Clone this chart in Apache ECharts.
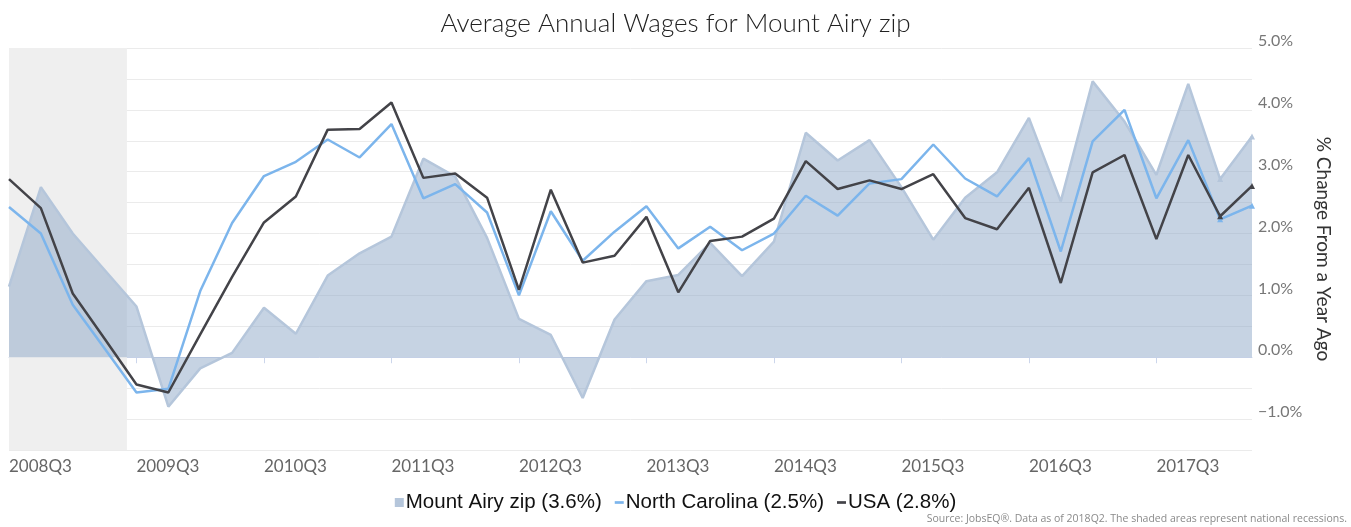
<!DOCTYPE html>
<html>
<head>
<meta charset="utf-8">
<title>Average Annual Wages for Mount Airy zip</title>
<script src="https://cdn.jsdelivr.net/npm/echarts@6/dist/echarts.min.js"></script>
<style>
  html, body { margin: 0; padding: 0; background: #fff; }
  #chart { width: 1351px; height: 527px; }
</style>
</head>
<body>
<div id="chart"></div>
<script>
// quarters 2008Q3 .. 2018Q2
const quarters = []
for (let y = 2008; y <= 2018; y++) {
  for (let q = 1; q <= 4; q++) {
    if ((y === 2008 && q < 3) || (y === 2018 && q > 2)) continue
    quarters.push(y + 'Q' + q)
  }
}

const mountAiry = [
  1.14, 2.75, 2.0, 1.41, 0.82, -0.80, -0.18, 0.07, 0.80, 0.38,
  1.32, 1.68, 1.95, 3.21, 2.92, 1.93, 0.62, 0.36, -0.66, 0.61,
  1.23, 1.33, 1.85, 1.31, 1.87, 3.63, 3.18, 3.51, 2.75, 1.90,
  2.58, 2.99, 3.87, 2.52, 4.46, 3.81, 2.95, 4.42, 2.88, 3.57
]
const northCarolina = [
  2.43, 2.0, 0.85, 0.14, -0.57, -0.51, 1.07, 2.17, 2.93, 3.16,
  3.52, 3.23, 3.77, 2.57, 2.80, 2.34, 1.00, 2.36, 1.56, 2.03,
  2.44, 1.76, 2.11, 1.73, 2.00, 2.61, 2.29, 2.81, 2.88, 3.44,
  2.89, 2.60, 3.22, 1.71, 3.49, 4.00, 2.57, 3.51, 2.23, 2.45
]
const usa = [
  2.88, 2.41, 1.03, 0.30, -0.44, -0.57, 0.37, 1.30, 2.18, 2.60,
  3.68, 3.69, 4.12, 2.90, 2.97, 2.58, 1.09, 2.71, 1.53, 1.64,
  2.27, 1.05, 1.88, 1.95, 2.24, 3.17, 2.72, 2.86, 2.72, 2.96,
  2.25, 2.07, 2.74, 1.20, 2.99, 3.27, 1.91, 3.27, 2.28, 2.77
]

const yTicks = [-1, 0, 1, 2, 3, 4, 5]
const xTickIdx = [0, 4, 8, 12, 16, 20, 24, 28, 32, 36]
const recession = [0, 3.7]

const toPairs = (arr) => arr.map((v, i) => [i, v])
const lastMarks = (v, params) => (params.dataIndex >= quarters.length - 2 ? 'triangle' : 'none')

const chart = echarts.init(document.getElementById('chart'))

chart.setOption({
  animation: false,
  title: {
    text: 'Average Annual Wages for Mount Airy zip',
    left: 'center',
    top: 6,
    textStyle: { fontFamily: 'Lato', fontWeight: 300, fontSize: 26, color: '#222' },
  },
  grid: { left: 9, right: 99, top: 48, bottom: 77 },
  legend: {
    bottom: 9,
    left: 'center',
    itemWidth: 9,
    itemHeight: 9,
    itemGap: 13,
    textStyle: { fontFamily: 'Liberation Sans', fontSize: 20.5, color: '#111', padding: [0, 0, 0, -3] },
    data: [
      { name: 'Mount Airy zip (3.6%)', icon: 'rect' },
      { name: 'North Carolina (2.5%)', icon: 'path://M0,0h10v3h-10z' },
      { name: 'USA (2.8%)', icon: 'path://M0,0h10v3h-10z' },
    ],
  },
  graphic: [
    {
      type: 'text',
      right: 4,
      bottom: 2,
      style: {
        text: 'Source: JobsEQ®. Data as of 2018Q2. The shaded areas represent national recessions.',
        fontFamily: 'Open Sans',
        fontSize: 10.5,
        fill: '#8a8a8a',
      },
    },
  ],
  xAxis: {
    type: 'value',
    min: 0,
    max: quarters.length - 1,
    interval: 4,
    axisLine: { show: true, lineStyle: { color: '#ccd6eb' } },
    axisTick: { show: true, length: 6, lineStyle: { color: '#ccd6eb' }, customValues: xTickIdx },
    axisLabel: {
      customValues: xTickIdx,
      formatter: (v) => quarters[v],
      align: 'left',
      margin: 8,
      fontFamily: 'Lato',
      fontSize: 17,
      color: '#666',
    },
    splitLine: { show: false },
  },
  yAxis: {
    type: 'value',
    position: 'right',
    min: -1.5,
    max: 5,
    interval: 0.5,
    name: '% Change From a Year Ago',
    nameLocation: 'middle',
    nameRotate: -90,
    nameGap: 62,
    nameTextStyle: { fontFamily: 'Lato', fontSize: 19, color: '#333' },
    axisLine: { show: false },
    axisTick: { show: false },
    axisLabel: {
      margin: 6,
      align: 'left',
      verticalAlign: 'bottom',
      padding: [0, 0, -1, 0],
      fontFamily: 'Lato',
      fontSize: 16,
      color: '#777',
      formatter: (v) => (yTicks.indexOf(v) >= 0 ? (v < 0 ? '\u22121.0%' : v.toFixed(1) + '%') : ''),
    },
    splitLine: { lineStyle: { color: '#ebebeb', width: 1 } },
  },
  series: [
    {
      name: 'recession',
      type: 'line',
      data: [],
      z: 0,
      markArea: {
        silent: true,
        itemStyle: { color: '#efefef' },
        data: [[{ xAxis: recession[0] }, { xAxis: recession[1] }]],
      },
    },
    {
      name: 'Mount Airy zip (3.6%)',
      type: 'line',
      data: toPairs(mountAiry),
      z: 2,
      symbol: lastMarks,
      symbolSize: 6,
      lineStyle: { color: '#b5c6db', width: 2.5 },
      itemStyle: { color: '#b5c6db' },
      areaStyle: { color: 'rgba(141,167,199,0.5)', opacity: 1, origin: 0 },
    },
    {
      name: 'North Carolina (2.5%)',
      type: 'line',
      data: toPairs(northCarolina),
      z: 3,
      symbol: lastMarks,
      symbolSize: 6,
      lineStyle: { color: '#7cb5ec', width: 2.5 },
      itemStyle: { color: '#7cb5ec' },
    },
    {
      name: 'USA (2.8%)',
      type: 'line',
      data: toPairs(usa),
      z: 4,
      symbol: lastMarks,
      symbolSize: 6,
      lineStyle: { color: '#434348', width: 2.5 },
      itemStyle: { color: '#434348' },
    },
  ],
})
</script>
</body>
</html>
